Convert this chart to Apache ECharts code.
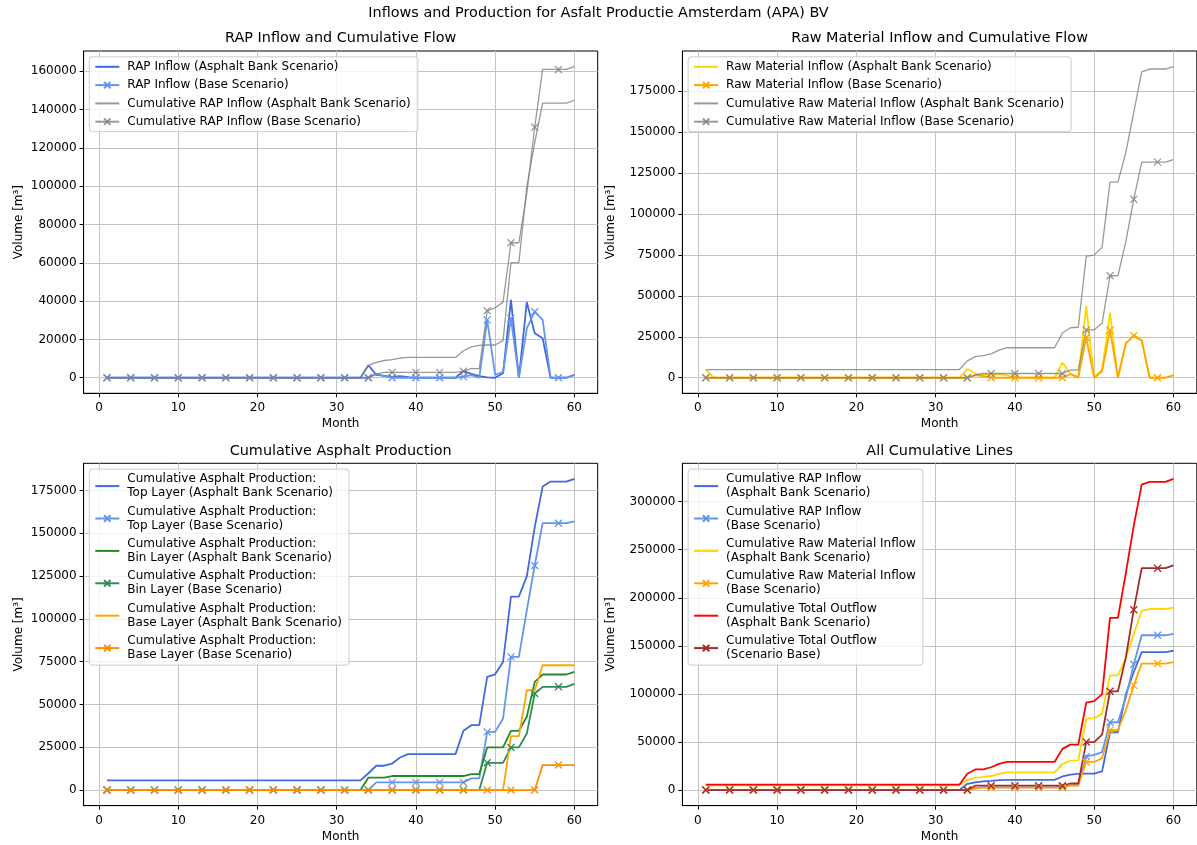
<!DOCTYPE html>
<html><head><meta charset="utf-8">
<script src="https://cdn.jsdelivr.net/npm/echarts@6/dist/echarts.min.js"></script>
<style>html,body{margin:0;padding:0;background:#fff}#c{width:1197px;height:845px}</style>
</head><body><div id="c"></div><script>
// ---------------- DATA ----------------
const months = [1,2,3,4,5,6,7,8,9,10,11,12,13,14,15,16,17,18,19,20,21,22,23,24,25,26,27,28,29,30,
  31,32,33,34,35,36,37,38,39,40,41,42,43,44,45,46,47,48,49,50,51,52,53,54,55,56,57,58,59,60];

const xTicks = [0,10,20,30,40,50,60];
const yTicksRAP = [0,20000,40000,60000,80000,100000,120000,140000,160000];
const yTicksRaw = [0,25000,50000,75000,100000,125000,150000,175000];
const yTicksProd = [0,25000,50000,75000,100000,125000,150000,175000];
const yTicksAll = [0,50000,100000,150000,200000,250000,300000];

const rapInflowAB = [
  0,0,0,0,0,0,0,0,0,0, 0,0,0,0,0,0,0,0,0,0, 0,0,0,0,0,0,0,0,0,0,
  0,0,0,6500,1500,1000,500,800,300,0,
  0,0,0,0,0,3500,2000,800,200,0,
  2300,40700,0,39500,23200,20600,0,0,0,1500];
const rapInflowBase = [
  0,0,0,0,0,0,0,0,0,0, 0,0,0,0,0,0,0,0,0,0, 0,0,0,0,0,0,0,0,0,0,
  0,0,0,0,2000,800,0,0,0,0,
  0,0,0,0,0,600,1400,0,30200,1500,
  3000,31000,0,25800,34500,30200,0,0,0,1500];
const cumRapAB = [
  0,0,0,0,0,0,0,0,0,0, 0,0,0,0,0,0,0,0,0,0, 0,0,0,0,0,0,0,0,0,0,
  0,0,0,6500,8000,9000,9500,10300,10600,10600,
  10600,10600,10600,10600,10600,14100,16100,16900,17100,17100,
  19400,60100,60100,99600,122800,143400,143400,143400,143400,144900];
const cumRapBase = [
  0,0,0,0,0,0,0,0,0,0, 0,0,0,0,0,0,0,0,0,0, 0,0,0,0,0,0,0,0,0,0,
  0,0,0,0,2000,2800,2800,2800,2800,2800,
  2800,2800,2800,2800,2800,3400,4800,4800,35000,36500,
  39500,70500,70500,96300,130800,161000,161000,161000,161000,162500];

const rawInflowAB = [
  5000,0,0,0,0,0,0,0,0,0, 0,0,0,0,0,0,0,0,0,0, 0,0,0,0,0,0,0,0,0,0,
  0,0,0,5300,2600,1800,2000,2000,1500,0,
  0,0,0,0,0,9300,2600,600,43700,0,
  5000,39600,0,20900,26000,23000,0,0,0,1600];
const rawInflowBase = [
  0,0,0,0,0,0,0,0,0,0, 0,0,0,0,0,0,0,0,0,0, 0,0,0,0,0,0,0,0,0,0,
  0,0,0,0,1600,1000,0,0,0,0,
  0,0,0,0,0,0,2100,0,24500,0,
  4000,29000,0,21000,25700,22600,0,0,0,1500];
const cumRawAB = [
  5000,5000,5000,5000,5000,5000,5000,5000,5000,5000,
  5000,5000,5000,5000,5000,5000,5000,5000,5000,5000,
  5000,5000,5000,5000,5000,5000,5000,5000,5000,5000,
  5000,5000,5000,10300,12900,13500,14600,16800,18300,18300,
  18300,18300,18300,18300,18300,27300,30500,30800,74200,74800,
  79500,119300,119300,137500,162000,186500,188300,188300,188300,189800];
const cumRawBase = [
  0,0,0,0,0,0,0,0,0,0, 0,0,0,0,0,0,0,0,0,0, 0,0,0,0,0,0,0,0,0,0,
  0,0,0,0,1600,2600,2600,2600,2600,2600,
  2600,2600,2600,2600,2600,2600,4700,4700,29200,29200,
  33200,62200,62200,83200,108900,131500,131500,131500,131500,133000];

const cumTopAB = [
  5600,5600,5600,5600,5600,5600,5600,5600,5600,5600,
  5600,5600,5600,5600,5600,5600,5600,5600,5600,5600,
  5600,5600,5600,5600,5600,5600,5600,5600,5600,5600,
  5600,5600,5600,9800,14200,14200,15500,19000,21000,21000,
  21000,21000,21000,21000,21000,34600,37900,37900,66100,67600,
  74800,113000,113000,124800,153600,177300,180200,180200,180200,181800];
const cumTopBase = [
  0,0,0,0,0,0,0,0,0,0, 0,0,0,0,0,0,0,0,0,0, 0,0,0,0,0,0,0,0,0,0,
  0,0,0,0,4500,4500,4500,4500,4500,4500,
  4500,4500,4500,4500,4500,4500,6800,6800,34000,34000,
  41800,77800,77800,105000,131200,155900,155900,155900,155900,157000];
const cumBinAB = [
  0,0,0,0,0,0,0,0,0,0, 0,0,0,0,0,0,0,0,0,0, 0,0,0,0,0,0,0,0,0,0,
  0,0,0,7200,7200,7200,8200,8200,8200,8200,
  8200,8200,8200,8200,8200,8200,9300,9300,24900,24900,
  24900,34600,34600,42800,63200,67500,67500,67500,67500,69000];
const cumBinBase = [
  0,0,0,0,0,0,0,0,0,0, 0,0,0,0,0,0,0,0,0,0, 0,0,0,0,0,0,0,0,0,0,
  0,0,0,0,0,0,0,0,0,0,
  0,0,0,0,0,0,0,0,15900,15900,
  15900,24900,24900,33000,56400,60300,60300,60300,60300,62000];
const cumBaseAB = [
  0,0,0,0,0,0,0,0,0,0, 0,0,0,0,0,0,0,0,0,0, 0,0,0,0,0,0,0,0,0,0,
  0,0,0,0,0,0,0,0,0,0, 0,0,0,0,0,0,0,0,0,0,
  0,31500,31500,58300,58300,72900,72900,72900,72900,72900];
const cumBaseBase = [
  0,0,0,0,0,0,0,0,0,0, 0,0,0,0,0,0,0,0,0,0, 0,0,0,0,0,0,0,0,0,0,
  0,0,0,0,0,0,0,0,0,0, 0,0,0,0,0,0,0,0,0,0,
  0,0,0,0,0,14600,14600,14600,14600,14600];
const cumTotalAB = [
  5600,5600,5600,5600,5600,5600,5600,5600,5600,5600,
  5600,5600,5600,5600,5600,5600,5600,5600,5600,5600,
  5600,5600,5600,5600,5600,5600,5600,5600,5600,5600,
  5600,5600,5600,17000,21400,21400,23700,27200,29200,29200,
  29200,29200,29200,29200,29200,42800,47200,47200,91000,92500,
  99700,179100,179100,225900,275100,317700,320600,320600,320600,323700];
const cumTotalBase = [
  0,0,0,0,0,0,0,0,0,0, 0,0,0,0,0,0,0,0,0,0, 0,0,0,0,0,0,0,0,0,0,
  0,0,0,0,4500,4500,4500,4500,4500,4500,
  4500,4500,4500,4500,4500,4500,6800,6800,49900,49900,
  57700,102700,102700,138000,187600,230800,230800,230800,230800,233600];

// ---------------- CHART ----------------
const FONT = 'DejaVu Sans';
const XSYM = 'path://M0,0L10,10M10,0L0,10';

const grids = [
  {left: 83.6, top: 51, width: 514.1, height: 342.3},
  {left: 682.4, top: 51, width: 514.4, height: 342.3},
  {left: 83.6, top: 463.3, width: 514.1, height: 342.3},
  {left: 682.4, top: 463.3, width: 514.4, height: 342.3}
];

function maxOf(arrs){ let m = 0; arrs.forEach(a => a.forEach(v => { if (v > m) m = v; })); return m; }

const panels = [
  {title: 'RAP Inflow and Cumulative Flow', ticks: yTicksRAP,
   series: [
    {name: 'RAP Inflow (Asphalt Bank Scenario)', data: rapInflowAB, color: '#4169e1'},
    {name: 'RAP Inflow (Base Scenario)', data: rapInflowBase, color: '#6495ed', marker: true},
    {name: 'Cumulative RAP Inflow (Asphalt Bank Scenario)', data: cumRapAB, color: '#808080', thin: true},
    {name: 'Cumulative RAP Inflow (Base Scenario)', data: cumRapBase, color: '#808080', thin: true, marker: true}
   ]},
  {title: 'Raw Material Inflow and Cumulative Flow', ticks: yTicksRaw,
   series: [
    {name: 'Raw Material Inflow (Asphalt Bank Scenario)', data: rawInflowAB, color: '#ffd700'},
    {name: 'Raw Material Inflow (Base Scenario)', data: rawInflowBase, color: '#ffa500', marker: true},
    {name: 'Cumulative Raw Material Inflow (Asphalt Bank Scenario)', data: cumRawAB, color: '#808080', thin: true},
    {name: 'Cumulative Raw Material Inflow (Base Scenario)', data: cumRawBase, color: '#808080', thin: true, marker: true}
   ]},
  {title: 'Cumulative Asphalt Production', ticks: yTicksProd,
   series: [
    {name: 'Cumulative Asphalt Production:\nTop Layer (Asphalt Bank Scenario)', data: cumTopAB, color: '#4169e1'},
    {name: 'Cumulative Asphalt Production:\nTop Layer (Base Scenario)', data: cumTopBase, color: '#6495ed', marker: true},
    {name: 'Cumulative Asphalt Production:\nBin Layer (Asphalt Bank Scenario)', data: cumBinAB, color: '#228b22'},
    {name: 'Cumulative Asphalt Production:\nBin Layer (Base Scenario)', data: cumBinBase, color: '#2e8b57', marker: true},
    {name: 'Cumulative Asphalt Production:\nBase Layer (Asphalt Bank Scenario)', data: cumBaseAB, color: '#ffa500'},
    {name: 'Cumulative Asphalt Production:\nBase Layer (Base Scenario)', data: cumBaseBase, color: '#ff8c00', marker: true}
   ]},
  {title: 'All Cumulative Lines', ticks: yTicksAll,
   series: [
    {name: 'Cumulative RAP Inflow\n(Asphalt Bank Scenario)', data: cumRapAB, color: '#4169e1'},
    {name: 'Cumulative RAP Inflow\n(Base Scenario)', data: cumRapBase, color: '#6495ed', marker: true},
    {name: 'Cumulative Raw Material Inflow\n(Asphalt Bank Scenario)', data: cumRawAB, color: '#ffd700'},
    {name: 'Cumulative Raw Material Inflow\n(Base Scenario)', data: cumRawBase, color: '#ffa500', marker: true},
    {name: 'Cumulative Total Outflow\n(Asphalt Bank Scenario)', data: cumTotalAB, color: '#ff0000'},
    {name: 'Cumulative Total Outflow\n(Scenario Base)', data: cumTotalBase, color: '#a52a2a', marker: true}
   ]}
];

const titleStyle = {fontFamily: FONT, fontSize: 14.4, fontWeight: 'normal', color: '#000'};
const titles = [{
  text: 'Inflows and Production for Asfalt Productie Amsterdam (APA) BV',
  left: 598.5, top: 6.5, textAlign: 'center', padding: 0, textStyle: titleStyle
}];
const xAxes = [], yAxes = [], series = [], legends = [];

panels.forEach((p, k) => {
  const g = grids[k];
  titles.push({
    text: p.title, left: g.left + g.width / 2, top: g.top - 19.5, textAlign: 'center', padding: 0,
    textStyle: titleStyle
  });
  const xmin = months[0], xmax = months[months.length - 1];
  const xm = (xmax - xmin) * 0.05;
  const ymax = maxOf(p.series.map(s => s.data));
  const step = p.ticks[1] - p.ticks[0];
  const axisCommon = {
    axisLine: {show: true, onZero: false, lineStyle: {color: '#000', width: 1}},
    axisTick: {show: true, length: 4, inside: false, lineStyle: {color: '#000', width: 1}},
    splitLine: {show: true, lineStyle: {color: '#c4c4c4', width: 1}},
    nameTextStyle: {fontFamily: FONT, fontSize: 12, color: '#000'}
  };
  xAxes.push(Object.assign({}, axisCommon, {
    gridIndex: k, type: 'value', min: xmin - xm, max: xmax + xm,
    minInterval: 10, maxInterval: 10, splitNumber: 6,
    axisTick: Object.assign({}, axisCommon.axisTick, {customValues: xTicks}),
    axisLabel: {customValues: xTicks, fontFamily: FONT, fontSize: 12, color: '#000', margin: 9,
      formatter: v => String(v)},
    name: 'Month', nameLocation: 'middle', nameGap: 25
  }));
  yAxes.push(Object.assign({}, axisCommon, {
    gridIndex: k, type: 'value', min: -0.05 * ymax, max: 1.05 * ymax,
    minInterval: step, maxInterval: step, splitNumber: p.ticks.length,
    axisTick: Object.assign({}, axisCommon.axisTick, {customValues: p.ticks}),
    axisLabel: {customValues: p.ticks, fontFamily: FONT, fontSize: 12, color: '#000', margin: 7,
      formatter: v => String(v)},
    name: 'Volume [m³]', nameLocation: 'middle', nameGap: (k % 2 === 0) ? 59 : 66
  }));
  const legendData = [];
  p.series.forEach(s => {
    const width = s.thin ? 1.3 : 1.8;
    const op = s.thin ? 0.8 : 1;
    series.push({
      type: 'line', name: s.name, xAxisIndex: k, yAxisIndex: k,
      symbol: s.marker ? XSYM : 'none', symbolSize: 7, showSymbol: !!s.marker,
      lineStyle: {color: s.color, width: width, opacity: op},
      itemStyle: {color: s.color, borderColor: s.color, borderWidth: 1.3, opacity: s.marker ? op : 0},
      data: months.map((m, i) => {
        const it = {value: [m, s.data[i]]};
        if (s.marker && i % 3 !== 0) it.symbol = 'none';
        return it;
      }),
      animation: false, silent: true, emphasis: {disabled: true}
    });
    legendData.push({name: s.name});
  });
  const twoLine = k >= 2;
  legends.push({
    orient: 'vertical', left: g.left + 5.7, top: g.top + 5.8,
    itemWidth: 24, itemHeight: 8, itemGap: twoLine ? 4.4 : 4.3,
    padding: [3, 7, 3, 5],
    backgroundColor: 'rgba(255,255,255,0.8)', borderColor: '#cccccc', borderWidth: 1, borderRadius: 3,
    selectedMode: false,
    textStyle: {fontFamily: FONT, fontSize: 12, color: '#000', lineHeight: 14, padding: [0, 0, 0, 3]},
    data: legendData
  });
});

const chart = echarts.init(document.getElementById('c'), null, {renderer: 'canvas'});
chart.setOption({
  backgroundColor: '#ffffff',
  animation: false,
  textStyle: {fontFamily: FONT},
  title: titles,
  grid: grids.map(g => Object.assign({show: true, borderColor: '#000', borderWidth: 1, backgroundColor: 'transparent'}, g)),
  xAxis: xAxes,
  yAxis: yAxes,
  legend: legends,
  series: series
});
</script></body></html>
